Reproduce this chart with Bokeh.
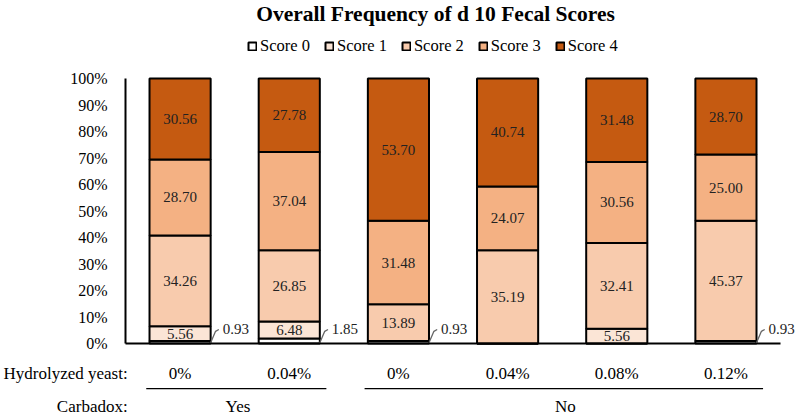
from bokeh.plotting import figure
from bokeh.models import (Range1d, FixedTicker, Label, Legend, LegendItem,
                          ColumnDataSource)
from bokeh.core.properties import value
from bokeh.embed import file_html
from bokeh.resources import INLINE

# ---- data ----
yeast_labels = ["0%", "0.04%", "0%", "0.04%", "0.08%", "0.12%"]
carbadox_labels = ["Yes", "No"]
carbadox_groups = [[0, 1], [2, 3, 4, 5]]
score_names = ["Score 0", "Score 1", "Score 2", "Score 3", "Score 4"]
score0 = [0.93, 1.85, 0.93, 0.00, 0.00, 0.93]
score1 = [5.56, 6.48, 0.00, 0.00, 5.56, 0.00]
score2 = [34.26, 26.85, 13.89, 35.19, 32.41, 45.37]
score3 = [28.70, 37.04, 31.48, 24.07, 30.56, 25.00]
score4 = [30.56, 27.78, 53.70, 40.74, 31.48, 28.70]
y_ticks = [0, 10, 20, 30, 40, 50, 60, 70, 80, 90, 100]
row_titles = ["Hydrolyzed yeast:", "Carbadox:"]
title_text = "Overall Frequency of d 10 Fecal Scores"

colors = ["#FFFFFF", "#FBE5D6", "#F8CBAD", "#F4B183", "#C55A11"]
FONT = "Liberation Serif"

xs = list(range(len(yeast_labels)))
series = [score0, score1, score2, score3, score4]
keys = ["s0", "s1", "s2", "s3", "s4"]
src = ColumnDataSource(dict(x=xs, **{k: v for k, v in zip(keys, series)}))

W, H = 800, 415
axis_px = 125
zero_px = 343
px_y = 2.65
px_x = 109.17
y_top = zero_px / px_y
y_bot = -(H - zero_px) / px_y
x_left = -0.5 - axis_px / px_x
x_right = -0.5 + (W - axis_px) / px_x

y_row1 = -11.3
y_line = -17.0
y_row2 = -23.8

p = figure(width=W, height=H, output_backend="svg", toolbar_location=None,
           x_range=Range1d(x_left, x_right), y_range=Range1d(y_bot, y_top),
           min_border_left=0, min_border_right=0, min_border_top=0,
           min_border_bottom=0)
p.outline_line_color = None
p.xgrid.visible = False
p.ygrid.visible = False
p.xaxis.visible = False
p.background_fill_color = "white"

yax = p.yaxis[0]
yax.fixed_location = -0.5
yax.bounds = (0, 100)
yax.ticker = FixedTicker(ticks=y_ticks)
yax.major_label_overrides = {t: f"{t}%" for t in y_ticks}
yax.axis_line_color = "black"
yax.axis_line_width = 2
yax.major_tick_line_color = None
yax.minor_tick_line_color = None
yax.major_label_standoff = 12
yax.major_label_text_font = FONT
yax.major_label_text_font_size = "16px"
yax.major_label_text_color = "black"

bar_w = 0.56
rs = p.vbar_stack(keys, x="x", width=bar_w, source=src, fill_color=colors,
                  line_color="black", line_width=2)

# baseline
p.segment(x0=[-0.5], y0=[0], x1=[5.5], y1=[0], line_color="black", line_width=2)

# segment labels
lx, ly, lt = [], [], []
sx, st = [], []
for i in xs:
    base = 0.0
    for ser in series:
        v = ser[i]
        if v >= 5:
            lx.append(i); ly.append(base + v / 2); lt.append(f"{v:.2f}")
        elif v > 0:
            sx.append(i); st.append(f"{v:.2f}")
        base += v
p.text(x=lx, y=ly, text=lt, text_align="center", text_baseline="middle",
       text_font=value(FONT), text_font_size="15px", text_color="#222222")

# small value callouts with leader lines
edge = bar_w / 2
xs_lead = [[x + edge, x + edge + 0.045, x + edge + 0.075] for x in sx]
ys_lead = [[0.3, 4.6, 5.3] for _ in sx]
p.multi_line(xs=xs_lead, ys=ys_lead, line_color="#666666", line_width=1.3)
p.text(x=[x + edge + 0.11 for x in sx], y=[5.3 for _ in sx], text=st,
       text_align="left", text_baseline="middle",
       text_font=value(FONT), text_font_size="15px", text_color="#222222")

# category rows
p.text(x=[-0.48, -0.48], y=[y_row1, y_row2], text=row_titles, text_align="right",
       text_baseline="middle", text_font=value(FONT), text_font_size="17px",
       text_color="black")
p.text(x=xs, y=[y_row1] * len(xs), text=yeast_labels, text_align="center",
       text_baseline="middle", text_font=value(FONT), text_font_size="17px",
       text_color="black")
gx0 = [g[0] - 0.31 for g in carbadox_groups]
gx1 = [g[-1] + 0.34 for g in carbadox_groups]
p.segment(x0=gx0, y0=[y_line] * 2, x1=gx1, y1=[y_line] * 2,
          line_color="black", line_width=1.3)
p.text(x=[(g[0] + g[-1]) / 2 + 0.03 for g in carbadox_groups], y=[y_row2] * 2,
       text=carbadox_labels, text_align="center", text_baseline="middle",
       text_font=value(FONT), text_font_size="17px", text_color="black")

# title
p.add_layout(Label(x=-0.5 + (435 - axis_px) / px_x, y=(zero_px - 13) / px_y,
                   text=title_text, text_align="center", text_baseline="middle",
                   text_font=FONT, text_font_size="21.5px", text_font_style="bold",
                   text_color="black"))

# legend
items = [LegendItem(label=n, renderers=[r]) for n, r in zip(score_names, rs)]
legend = Legend(items=items, orientation="horizontal",
                location=(247, H - 56),
                glyph_width=10, glyph_height=10, label_standoff=3, spacing=14,
                padding=2, margin=0, border_line_color=None,
                background_fill_alpha=0,
                label_text_font=FONT, label_text_font_size="16.5px",
                label_text_color="black", label_height=14)
p.add_layout(legend, "center")

open("out.html", "w").write(file_html(p, INLINE))
